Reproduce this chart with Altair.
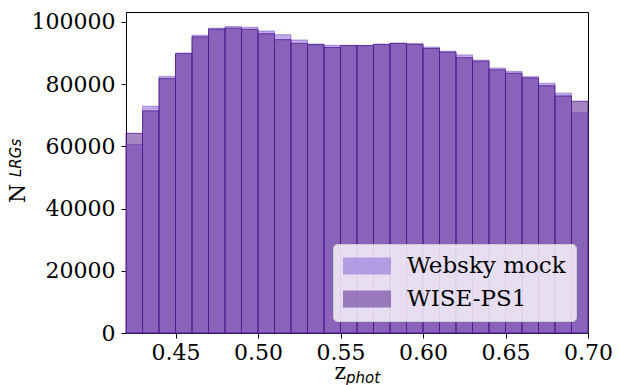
import altair as alt
import pandas as pd

# bin edges (left), width 0.01
bin_lo = [round(0.42 + 0.01 * i, 2) for i in range(28)]
bin_hi = [round(0.43 + 0.01 * i, 2) for i in range(28)]

websky = [60600, 72900, 82500, 90000, 95700, 98000, 98500, 98300, 97100, 95900,
          94200, 92900, 92500, 92500, 92400, 92800, 93200, 92900, 91900, 90600,
          89400, 87700, 85200, 84100, 82400, 80300, 77100, 70800]
wise = [64200, 71400, 81800, 89800, 95200, 97700, 98000, 97600, 96200, 94300,
        93100, 92700, 91800, 92400, 92400, 92800, 93100, 92900, 91500, 90300,
        88500, 87400, 84600, 83500, 82000, 79500, 76200, 74500]

series_names = ["Websky mock", "WISE-PS1"]
series_colors = ["#9370db", "#663399"]
x_ticks = [0.45, 0.50, 0.55, 0.60, 0.65, 0.70]
y_ticks = [0, 20000, 40000, 60000, 80000, 100000]

df_web = pd.DataFrame({"lo": bin_lo, "hi": bin_hi, "n": websky, "series": series_names[0]})
df_wise = pd.DataFrame({"lo": bin_lo, "hi": bin_hi, "n": wise, "series": series_names[1]})

SERIF = "DejaVu Serif"

xscale = alt.Scale(domain=[0.42, 0.70], nice=False, zero=False)
yscale = alt.Scale(domain=[0, 103200], nice=False)

legend = alt.Legend(
    title=None, orient="bottom-right", offset=12, padding=10,
    fillColor="rgba(255,255,255,0.8)", strokeColor="#cccccc", cornerRadius=4,
    symbolType="M-2,-0.7L2,-0.7L2,0.7L-2,0.7Z", symbolSize=576, symbolOffset=12,
    labelOffset=28, labelFont=SERIF, labelFontSize=23, labelColor="black",
    rowPadding=9, symbolStrokeWidth=0, symbolOpacity=0.6, labelLimit=300,
)

color = alt.Color("series:N", scale=alt.Scale(domain=series_names, range=series_colors), legend=legend)

xenc = alt.X("lo:Q", scale=xscale, title=None,
             axis=alt.Axis(values=x_ticks, format=".2f", labelFlush=False, labelOverlap=False))
yenc = alt.Y("n:Q", stack=None, scale=yscale, title=None,
             axis=alt.Axis(values=y_ticks, format="d", labelPadding=6))

web_layer = alt.Chart(df_web).mark_bar(
    fillOpacity=0.6, stroke="#7e5cc8", strokeOpacity=0.6, strokeWidth=1
).encode(x=xenc, x2="hi:Q", y=yenc, y2=alt.datum(0), color=color)

wise_layer = alt.Chart(df_wise).mark_bar(
    fillOpacity=0.6, stroke="#4e1890", strokeOpacity=0.75, strokeWidth=1
).encode(x=xenc, x2="hi:Q", y=yenc, y2=alt.datum(0), color=color)

def txt(s, x, y, font, size, style="normal", angle=0, align="left"):
    return alt.Chart(pd.DataFrame({"t": [s]})).mark_text(
        font=font, fontSize=size, fontStyle=style, angle=angle, align=align,
        baseline="alphabetic", color="black"
    ).encode(x=alt.value(x), y=alt.value(y), text="t:N")

y_N = txt("N", -101, 191, SERIF, 22, angle=270)
y_sub = txt("LRGs", -105, 165, "DejaVu Sans", 15, style="italic", angle=270)
x_z = txt("z", 220, 367, SERIF, 22, align="right")
x_sub = txt("phot", 220, 371, "DejaVu Sans", 15, style="italic")

chart = alt.layer(web_layer, wise_layer, y_N, y_sub, x_z, x_sub).properties(
    width=462, height=321,
    padding={"left": 118, "top": 4, "right": 24, "bottom": 52},
    autosize=alt.AutoSizeParams(type="none"),
).configure_view(stroke="black", strokeWidth=1).configure_axis(
    grid=False, domainColor="black", domainWidth=1, tickColor="black",
    tickSize=5, tickWidth=1, labelFont=SERIF, labelFontSize=22,
    labelColor="black", labelPadding=4,
)

chart.save("out.html", embed_options={"renderer": "svg", "actions": False})
